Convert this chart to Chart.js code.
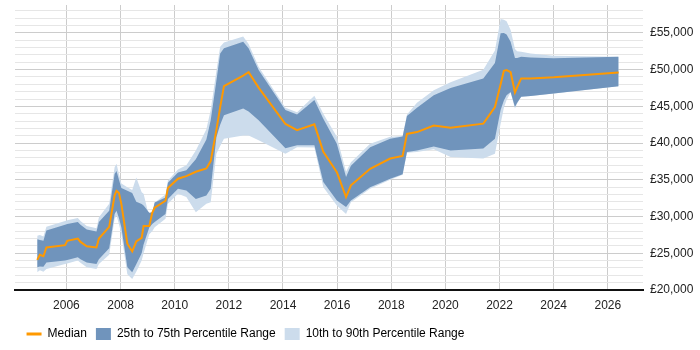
<!DOCTYPE html>
<html>
<head>
<meta charset="utf-8">
<script src="https://cdn.jsdelivr.net/npm/chart.js@4"></script>
<style>
  html, body { margin: 0; padding: 0; background: #fff; }
  #wrap { width: 700px; height: 350px; }
</style>
</head>
<body>
<div id="wrap"><canvas id="salary-chart"></canvas></div>
<script>
// decimal years of each observation
const years = [
  2004.92, 2005.02, 2005.15, 2005.26, 2005.95, 2006.03, 2006.42, 2006.52, 2006.75, 2007.11,
  2007.2, 2007.58, 2007.78, 2007.85, 2007.94, 2008.03, 2008.25, 2008.43, 2008.58, 2008.78,
  2008.85, 2009.06, 2009.17, 2009.26, 2009.66, 2009.75, 2010.12, 2010.43, 2010.78, 2011.17,
  2011.33, 2011.54, 2011.68, 2011.82, 2012.53, 2012.73, 2013.1, 2014.09, 2014.52, 2015.16,
  2015.49, 2015.99, 2016.33, 2016.51, 2017.22, 2017.96, 2018.42, 2018.58, 2018.95, 2019.57,
  2020.19, 2021.4, 2021.83, 2022.04, 2022.16, 2022.26, 2022.41, 2022.57, 2022.65, 2022.8,
  2023.15, 2024.0, 2026.4
];

const median = [
  24100, 24800, 24600, 25800, 26100, 26700, 27000, 26550, 25950, 25800,
  27000, 28600, 32900, 33500, 33200, 31700, 26300, 25250, 26600, 27100,
  28700, 28700, 30500, 31200, 32150, 33900, 35150, 35500, 36100, 36550,
  37550, 41800, 44900, 47750, 49200, 49650, 47550, 42600, 41750, 42550,
  38800, 36050, 32650, 34250, 36500, 37900, 38250, 41250, 41500, 42400,
  42100, 42650, 44900, 48000, 49850, 49950, 49650, 46900, 47600, 48800,
  48800, 48950, 49600
];

const p75 = [
  26900, 26800, 26700, 28100, 28900, 29000, 29250, 28900, 28250, 27950,
  29250, 30800, 35800, 36200, 35000, 33900, 33500, 33200, 32000, 31700,
  31500, 30500, 30600, 31900, 32600, 34600, 36000, 36300, 37800, 40500,
  43100, 48500, 52200, 52900, 53800, 52900, 49950, 44500, 43900, 45850,
  43300, 39900, 35400, 36900, 39450, 40600, 40900, 43700, 44800, 46500,
  47500, 48800, 50900, 54950, 55000, 54800, 53800, 51600, 51600, 51770,
  51650, 51550, 51770
];

const p25 = [
  23100, 23200, 23150, 23750, 24000, 24100, 24450, 24200, 23750, 23550,
  24200, 25700, 30350, 30800, 29800, 28500, 23100, 22400, 23500, 25000,
  26200, 28500, 29000, 29250, 30350, 32400, 33800, 33550, 32400, 32850,
  33800, 40800, 42500, 43800, 44700, 44300, 43100, 39300, 39700, 39700,
  34700, 32200, 31300, 32200, 34000, 35150, 35750, 38800, 39000, 39550,
  39000, 39250, 40600, 44500, 45800, 46500, 46950, 44900, 45500, 46300,
  46400, 46750, 47750
];

const p90 = [
  27400, 27500, 27300, 28600, 29400, 29500, 29800, 29400, 28700, 28400,
  29900, 31750, 36700, 37200, 35800, 34500, 34000, 33600, 35300, 33300,
  33100, 29900, 30200, 31900, 33000, 34900, 36400, 37000, 39000, 41900,
  44500, 49800, 53100, 53700, 54500, 53500, 50400, 44800, 44200, 46450,
  44000, 40850, 36100, 37400, 39900, 40850, 40950, 43900, 45500, 47200,
  48300, 50000, 52600, 56900, 56800, 56600, 55400, 52800, 52500, 52450,
  52200, 51900, 51770
];

const p10 = [
  22400, 22700, 22500, 22850, 23550, 23600, 24000, 23700, 23100, 22850,
  23550, 24800, 29700, 30150, 29000, 27600, 22150, 21500, 22500, 24000,
  25000, 27600, 28000, 28550, 29700, 31750, 33100, 32650, 30600, 31750,
  31950, 38550, 39600, 40600, 41050, 41050, 40400, 38550, 39450, 39400,
  34000, 31500, 30350, 31950, 33800, 35000, 35700, 38700, 38800, 39150,
  38100, 37900, 38550, 42650, 44800, 45850, 46900, 44700, 45400, 46300,
  46400, 46750, 47750
];

const xTicks = [2006, 2008, 2010, 2012, 2014, 2016, 2018, 2020, 2022, 2024, 2026];
const yTicks = [];
for (let v = 20000; v <= 58000; v += 1000) yTicks.push(v);

const ORANGE = "#ff9900";
const DARK = "#7094bc";
const LIGHT = "#ccdcec";
const FONT = "'Liberation Sans', Arial, sans-serif";

const pts = (arr) => arr.map((v, i) => ({ x: years[i], y: v }));

// legend in the reference sits left of centre
const legendShift = {
  id: "legendShift",
  afterLayout(chart) {
    const lg = chart.legend;
    if (!lg) return;
    lg.left = 0;
    lg.right = 491;
    lg.width = 491;
  },
};

const ctx = document.getElementById("salary-chart").getContext("2d");

new Chart(ctx, {
  type: "line",
  plugins: [legendShift],
  data: {
    datasets: [
      {
        label: "Median",
        data: pts(median),
        borderColor: ORANGE,
        backgroundColor: ORANGE,
        borderWidth: 2,
        pointRadius: 0,
        fill: false,
        order: 0,
      },
      {
        label: "25th to 75th Percentile Range",
        data: pts(p75),
        borderWidth: 0,
        borderColor: "rgba(0,0,0,0)",
        backgroundColor: DARK,
        pointRadius: 0,
        fill: { target: 2 },
        order: 1,
      },
      {
        label: "",
        data: pts(p25),
        borderWidth: 0,
        borderColor: "rgba(0,0,0,0)",
        pointRadius: 0,
        fill: false,
        order: 1,
      },
      {
        label: "10th to 90th Percentile Range",
        data: pts(p90),
        borderWidth: 0,
        borderColor: "rgba(0,0,0,0)",
        backgroundColor: LIGHT,
        pointRadius: 0,
        fill: { target: 4 },
        order: 2,
      },
      {
        label: "",
        data: pts(p10),
        borderWidth: 0,
        borderColor: "rgba(0,0,0,0)",
        pointRadius: 0,
        fill: false,
        order: 2,
      },
    ],
  },
  options: {
    responsive: true,
    maintainAspectRatio: false,
    animation: false,
    layout: { padding: { top: 5, left: 15, right: 0, bottom: 0 } },
    plugins: {
      tooltip: { enabled: false },
      legend: {
        position: "bottom",
        labels: {
          usePointStyle: true,
          pointStyleWidth: 15,
          boxHeight: 12,
          padding: 9,
          color: "#222",
          font: { family: FONT, size: 12 },
          generateLabels: () => [
            { text: "Median", pointStyle: "line", strokeStyle: ORANGE, fillStyle: ORANGE, lineWidth: 3, datasetIndex: 0 },
            { text: "25th to 75th Percentile Range", pointStyle: "rect", fillStyle: DARK, strokeStyle: DARK, lineWidth: 0, datasetIndex: 1 },
            { text: "10th to 90th Percentile Range", pointStyle: "rect", fillStyle: LIGHT, strokeStyle: LIGHT, lineWidth: 0, datasetIndex: 3 },
          ],
        },
      },
    },
    scales: {
      x: {
        type: "linear",
        min: 2004.1,
        max: 2027.3,
        afterBuildTicks: (axis) => {
          axis.ticks = xTicks.map((v) => ({ value: v }));
        },
        afterFit: (axis) => { axis.height = 29; },
        ticks: {
          callback: (v) => String(v),
          autoSkip: false,
          maxRotation: 0,
          padding: 8,
          color: "#222",
          font: { family: FONT, size: 12 },
        },
        grid: { color: "#cccccc", drawTicks: false },
        border: { color: "#111", width: 2 },
      },
      y: {
        position: "right",
        min: 20000,
        max: 58800,
        afterBuildTicks: (axis) => {
          axis.ticks = yTicks.map((v) => ({ value: v }));
        },
        afterFit: (axis) => {
          axis.width = 57;
          axis.paddingTop = 0;
          axis.paddingBottom = 0;
        },
        ticks: {
          autoSkip: false,
          padding: 7,
          color: "#222",
          font: { family: FONT, size: 12 },
          callback: (v) => (v % 5000 === 0 ? "£" + v.toLocaleString("en-GB") : ""),
        },
        grid: {
          drawTicks: false,
          color: (c) => {
            const v = c.tick ? c.tick.value : 0;
            return v % 5000 === 0 ? "#cccccc" : "#e6e6e6";
          },
        },
        border: { display: false },
      },
    },
  },
});
</script>
</body>
</html>
